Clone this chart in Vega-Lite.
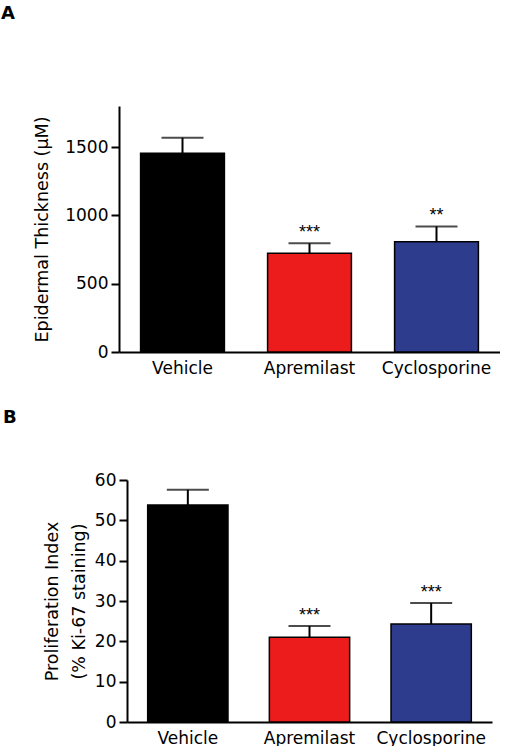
{
  "$schema": "https://vega.github.io/schema/vega-lite/v6.json",
  "background": "white",
  "padding": {"left": 1, "top": 5, "right": 0, "bottom": 0},
  "bounds": "flush",
  "center": true,
  "spacing": 128,
  "datasets": {
    "thickness": [
      {"treatment": "Vehicle", "mean": 1455, "upper": 1568, "stars": ""},
      {"treatment": "Apremilast", "mean": 722, "upper": 795, "stars": "***"},
      {"treatment": "Cyclosporine", "mean": 807, "upper": 919, "stars": "**"}
    ],
    "proliferation": [
      {"treatment": "Vehicle", "mean": 53.8, "upper": 57.6, "stars": ""},
      {"treatment": "Apremilast", "mean": 21.0, "upper": 23.8, "stars": "***"},
      {"treatment": "Cyclosporine", "mean": 24.3, "upper": 29.5, "stars": "***"}
    ]
  },
  "config": {
    "view": {"stroke": null},
    "font": "DejaVu Sans",
    "axis": {
      "domainColor": "black", "domainWidth": 2, "tickColor": "black", "tickWidth": 2,
      "labelColor": "black", "titleColor": "black", "grid": false,
      "labelFontSize": 17, "titleFontSize": 17.5, "titleFontWeight": "normal",
      "labelFont": "DejaVu Sans", "titleFont": "DejaVu Sans"
    }
  },
  "vconcat": [
    {
      "width": 381, "height": 246,
      "title": {"text": "A", "anchor": "start", "frame": "group", "dx": -118, "offset": 69, "baseline": "alphabetic", "fontSize": 18, "fontWeight": "bold", "font": "DejaVu Sans", "color": "black"},
      "data": {"name": "thickness"},
      "encoding": {
        "x": {"field": "treatment", "type": "nominal", "sort": ["Vehicle", "Apremilast", "Cyclosporine"],
              "scale": {"paddingInner": 0.34, "paddingOuter": 0.17},
              "axis": {"title": null, "ticks": false, "labelAngle": 0, "labelPadding": 8}}
      },
      "layer": [
        {"mark": {"type": "bar", "stroke": "black", "strokeWidth": 1.5},
         "encoding": {
           "y": {"field": "mean", "type": "quantitative", "scale": {"domain": [0, 1700]}, "title": "Epidermal Thickness (µM)",
                 "axis": {"values": [0, 500, 1000, 1500], "format": "d", "tickSize": 8, "labelPadding": 3, "titlePadding": 13}},
           "fill": {"field": "treatment", "type": "nominal", "scale": {"domain": ["Vehicle", "Apremilast", "Cyclosporine"], "range": ["#000000", "#ED1C1C", "#2E3C8E"]}, "legend": null}
         }},
        {"mark": {"type": "rule", "strokeWidth": 2, "color": "black"},
         "encoding": {"y": {"field": "mean", "type": "quantitative", "title": "Epidermal Thickness (µM)"}, "y2": {"field": "upper"}}},
        {"mark": {"type": "tick", "size": 42, "thickness": 2, "color": "black"},
         "encoding": {"y": {"field": "upper", "type": "quantitative", "title": "Epidermal Thickness (µM)"}}},
        {"mark": {"type": "text", "font": "Liberation Sans", "fontSize": 18, "baseline": "alphabetic", "dy": -5, "color": "black"},
         "encoding": {"y": {"field": "upper", "type": "quantitative", "title": "Epidermal Thickness (µM)"}, "text": {"field": "stars"}}}
      ]
    },
    {
      "width": 365, "height": 242,
      "title": {"text": "B", "anchor": "start", "frame": "group", "dx": -124, "offset": 30, "baseline": "alphabetic", "fontSize": 18, "fontWeight": "bold", "font": "DejaVu Sans", "color": "black"},
      "data": {"name": "proliferation"},
      "encoding": {
        "x": {"field": "treatment", "type": "nominal", "sort": ["Vehicle", "Apremilast", "Cyclosporine"],
              "scale": {"paddingInner": 0.34, "paddingOuter": 0.17},
              "axis": {"title": null, "ticks": false, "labelAngle": 0, "labelPadding": 8}}
      },
      "layer": [
        {"mark": {"type": "bar", "stroke": "black", "strokeWidth": 1.5},
         "encoding": {
           "y": {"field": "mean", "type": "quantitative", "scale": {"domain": [0, 60]}, "title": ["Proliferation Index", "(% Ki-67 staining)"],
                 "axis": {"titleLineHeight": 27, "values": [0, 10, 20, 30, 40, 50, 60], "format": "d", "tickSize": 8, "labelPadding": 3, "titlePadding": 6}},
           "fill": {"field": "treatment", "type": "nominal", "scale": {"domain": ["Vehicle", "Apremilast", "Cyclosporine"], "range": ["#000000", "#ED1C1C", "#2E3C8E"]}, "legend": null}
         }},
        {"mark": {"type": "rule", "strokeWidth": 2, "color": "black"},
         "encoding": {"y": {"field": "mean", "type": "quantitative", "title": ["Proliferation Index", "(% Ki-67 staining)"]}, "y2": {"field": "upper"}}},
        {"mark": {"type": "tick", "size": 42, "thickness": 2, "color": "black"},
         "encoding": {"y": {"field": "upper", "type": "quantitative", "title": ["Proliferation Index", "(% Ki-67 staining)"]}}},
        {"mark": {"type": "text", "font": "Liberation Sans", "fontSize": 18, "baseline": "alphabetic", "dy": -5, "color": "black"},
         "encoding": {"y": {"field": "upper", "type": "quantitative", "title": ["Proliferation Index", "(% Ki-67 staining)"]}, "text": {"field": "stars"}}}
      ]
    }
  ]
}
